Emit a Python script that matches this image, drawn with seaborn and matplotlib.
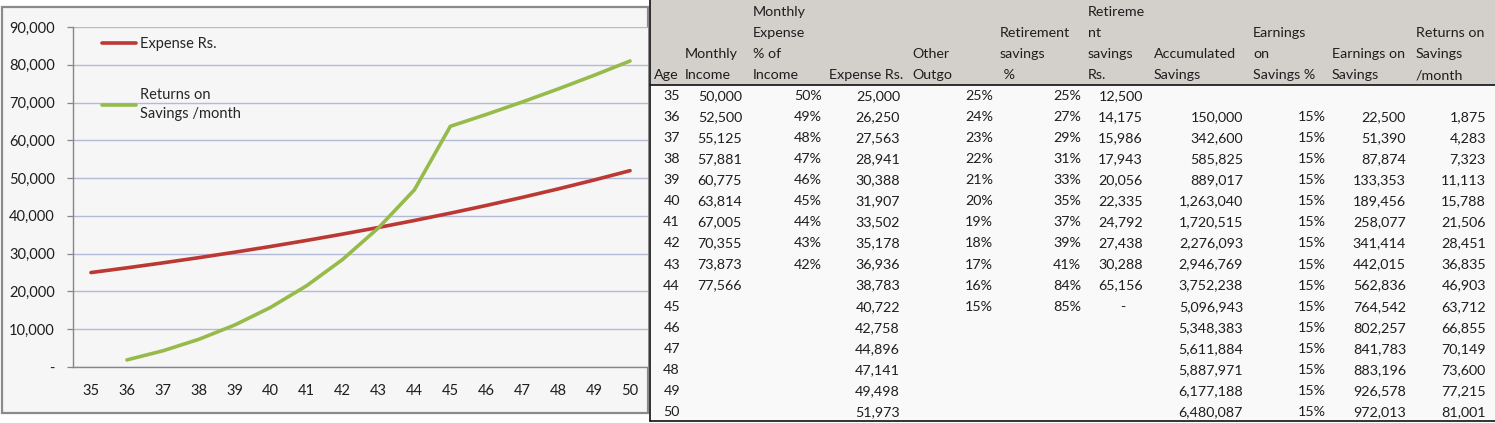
import numpy as np
import pandas as pd
import matplotlib
matplotlib.use("Agg")
import matplotlib.pyplot as plt
import seaborn as sns
from matplotlib.patches import Rectangle
from matplotlib.ticker import FuncFormatter, FixedLocator

# ---------------- data ----------------
ages = [35, 36, 37, 38, 39, 40, 41, 42, 43, 44, 45, 46, 47, 48, 49, 50]
monthly_income = [50000, 52500, 55125, 57881, 60775, 63814, 67005, 70355, 73873, 77566,
                  None, None, None, None, None, None]
expense_pct = [50, 49, 48, 47, 46, 45, 44, 43, 42, None, None, None, None, None, None, None]
expense_rs = [25000, 26250, 27563, 28941, 30388, 31907, 33502, 35178, 36936, 38783,
              40722, 42758, 44896, 47141, 49498, 51973]
other_outgo_pct = [25, 24, 23, 22, 21, 20, 19, 18, 17, 16, 15, None, None, None, None, None]
retirement_pct = [25, 27, 29, 31, 33, 35, 37, 39, 41, 84, 85, None, None, None, None, None]
retirement_rs = [12500, 14175, 15986, 17943, 20056, 22335, 24792, 27438, 30288, 65156, 0,
                 None, None, None, None, None]
accumulated = [None, 150000, 342600, 585825, 889017, 1263040, 1720515, 2276093, 2946769,
               3752238, 5096943, 5348383, 5611884, 5887971, 6177188, 6480087]
earnings_pct = [None, 15, 15, 15, 15, 15, 15, 15, 15, 15, 15, 15, 15, 15, 15, 15]
earnings = [None, 22500, 51390, 87874, 133353, 189456, 258077, 341414, 442015, 562836,
            764542, 802257, 841783, 883196, 926578, 972013]
returns_month = [None, 1875, 4283, 7323, 11113, 15788, 21506, 28451, 36835, 46903,
                 63712, 66855, 70149, 73600, 77215, 81001]

series_expense = "Expense Rs."
series_returns = "Returns on\nSavings /month"

headers = [
    ["Age"],
    ["Monthly", "Income"],
    ["Monthly", "Expense", "% of", "Income"],
    ["Expense Rs."],
    ["Other", "Outgo"],
    ["Retirement", "savings", " %"],
    ["Retireme", "nt", "savings", "Rs."],
    ["Accumulated", "Savings"],
    ["Earnings", "on", "Savings %"],
    ["Earnings on", "Savings"],
    ["Returns on", "Savings", "/month"],
]
columns = [ages, monthly_income, expense_pct, expense_rs, other_outgo_pct, retirement_pct,
           retirement_rs, accumulated, earnings_pct, earnings, returns_month]
kinds = ["int", "num", "pct", "num", "pct", "pct", "num", "num", "pct", "num", "num"]

# ---------------- style ----------------
sns.set_style("white")
plt.rcParams["font.family"] = ["Lato", "DejaVu Sans"]

W, H = 1495, 423
fig = plt.figure(figsize=(W / 100, H / 100), dpi=100)
fig.patch.set_facecolor("white")

# background layer in pixel coordinates
bg = fig.add_axes([0, 0, 1, 1], zorder=0)
bg.set_xlim(0, W)
bg.set_ylim(H, 0)
bg.axis("off")

panel_col = "#f6f6f6"
bg.add_patch(Rectangle((2, 7), 646, 406, facecolor=panel_col, edgecolor="#8a8a8a", lw=1.6))

# table backgrounds
tx0 = 650
bg.add_patch(Rectangle((tx0, 0), W - tx0, 85, facecolor="#d3cfcb", edgecolor="none"))
bg.add_patch(Rectangle((tx0, 85), W - tx0, 336, facecolor="#f9f9f9", edgecolor="none"))
bg.plot([tx0, tx0], [0, 421], color="#111111", lw=1.2)
bg.plot([tx0, W], [85, 85], color="#111111", lw=1.2)
bg.plot([tx0, W], [421, 421], color="#111111", lw=1.2)

txt_col = "#1e1e1e"
fs = 10.3
header_x = [654, 685, 753, 829, 912, 1000, 1088, 1154, 1253, 1332, 1416]
right_x = [680, 742, 822, 900, 993, 1081, 1143, 1243, 1326, 1406, 1486]
line_ys = [12, 33, 54, 75]
for hx, lines in zip(header_x, headers):
    n = len(lines)
    for i, line in enumerate(lines):
        bg.text(hx, line_ys[4 - n + i], line, ha="left", va="center", fontsize=fs, color=txt_col)

row0, step = 96, 21.07
for col, kind, rx in zip(columns, kinds, right_x):
    for r, v in enumerate(col):
        if v is None:
            continue
        y = row0 + r * step
        if kind == "pct":
            s = f"{v}%"
        elif kind == "int":
            s = str(v)
        else:
            s = "-" if v == 0 else f"{v:,}"
        xr = rx - 18 if s == "-" else rx
        bg.text(xr, y, s, ha="right", va="center", fontsize=fs, color=txt_col)

# ---------------- chart ----------------
ax = fig.add_axes([73 / W, 1 - 367 / H, (648 - 73) / W, (367 - 27) / H], zorder=2)
ax.set_facecolor(panel_col)

df = pd.DataFrame({
    "Age": ages + ages,
    "Value": [float(v) for v in expense_rs] + [np.nan if v is None else float(v) for v in returns_month],
    "Series": [series_expense] * len(ages) + [series_returns] * len(ages),
})
df = df.dropna()
sns.lineplot(data=df, x="Age", y="Value", hue="Series",
             palette={series_expense: "#bb3833", series_returns: "#96bb4a"},
             linewidth=2.6, ax=ax)

ax.set_xlim(34.5, 50.5)
ax.set_ylim(0, 90000)
ax.set_xlabel("")
ax.set_ylabel("")
ax.set_yticks(np.arange(0, 90001, 10000))
ax.yaxis.set_major_formatter(FuncFormatter(lambda v, p: "-" if v == 0 else f"{int(v):,}"))
ax.set_xticks(ages)
ax.set_xticklabels([str(a) for a in ages])
ax.xaxis.set_minor_locator(FixedLocator(np.arange(34.5, 50.6, 1.0)))
ax.tick_params(axis="x", which="major", length=0, pad=12, labelsize=10.5, colors=txt_col)
ax.tick_params(axis="x", which="minor", length=4, width=0.9, direction="out", color="#868686")
ax.tick_params(axis="y", which="major", length=4, width=0.9, direction="out", pad=9,
               labelsize=10.5, colors="#868686", labelcolor=txt_col, left=True)
ax.grid(axis="y", color="#b3bad6", lw=1.0)
ax.grid(axis="x", visible=False)
ax.set_axisbelow(True)
for s in ["top", "right"]:
    ax.spines[s].set_visible(False)
for s in ["left", "bottom"]:
    ax.spines[s].set_color("#868686")
    ax.spines[s].set_linewidth(1.0)

handles, labels = ax.get_legend_handles_labels()
leg = ax.legend(handles, labels, loc="upper left", bbox_to_anchor=(92 / W, 1 - 27 / H),
                bbox_transform=fig.transFigure, frameon=False, fontsize=10.5,
                handlelength=2.3, handletextpad=0.3, labelspacing=2.5, borderpad=0.2)
for t in leg.get_texts():
    t.set_linespacing(1.45)

fig.savefig("out.png", dpi=100, facecolor=fig.get_facecolor())
